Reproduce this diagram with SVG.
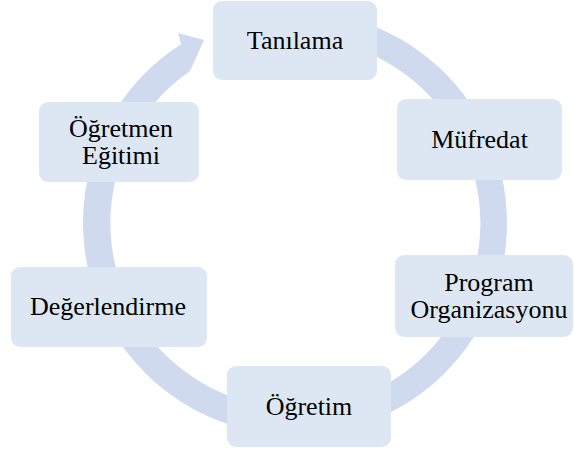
<svg xmlns="http://www.w3.org/2000/svg" width="574" height="452" viewBox="0 0 574 452">
  <style>
    .box { fill: #DDE7F4; }
    .lbl { font-family: "Liberation Serif", "Times New Roman", serif; font-size: 26px; fill: #000; text-anchor: middle; }
    .ring { fill: #CFDAEE; }
  </style>
  <rect width="574" height="452" fill="#FFFFFF"/>

  <!-- circular arrow running clockwise behind the stages -->
  <g id="connectors">
    <path class="ring" d="M331.8,14.2 A212,212 0 1 1 181.1,44.2 L178,33 L204,40 L190,71 A185,185 0 1 0 327.1,40.8 Z"/>
  </g>

  <g id="tanilama">
    <rect class="box" x="213" y="1" width="164" height="79" rx="9"/>
    <text class="lbl" x="295" y="49">Tanılama</text>
  </g>
  <g id="mufredat">
    <rect class="box" x="397" y="99" width="165" height="81" rx="9"/>
    <text class="lbl" x="479.5" y="148">Müfredat</text>
  </g>
  <g id="program-organizasyonu">
    <rect class="box" x="395" y="255" width="178" height="82" rx="9"/>
    <text class="lbl" x="489" y="290.5">Program</text>
    <text class="lbl" x="489" y="318">Organizasyonu</text>
  </g>
  <g id="ogretim">
    <rect class="box" x="227" y="366" width="164" height="81" rx="9"/>
    <text class="lbl" x="309" y="415">Öğretim</text>
  </g>
  <g id="degerlendirme">
    <rect class="box" x="11" y="267" width="196" height="80" rx="9"/>
    <text class="lbl" x="108" y="315">Değerlendirme</text>
  </g>
  <g id="ogretmen-egitimi">
    <rect class="box" x="39" y="102" width="160" height="80" rx="9"/>
    <text class="lbl" x="121" y="137">Öğretmen</text>
    <text class="lbl" x="121" y="164">Eğitimi</text>
  </g>
</svg>
